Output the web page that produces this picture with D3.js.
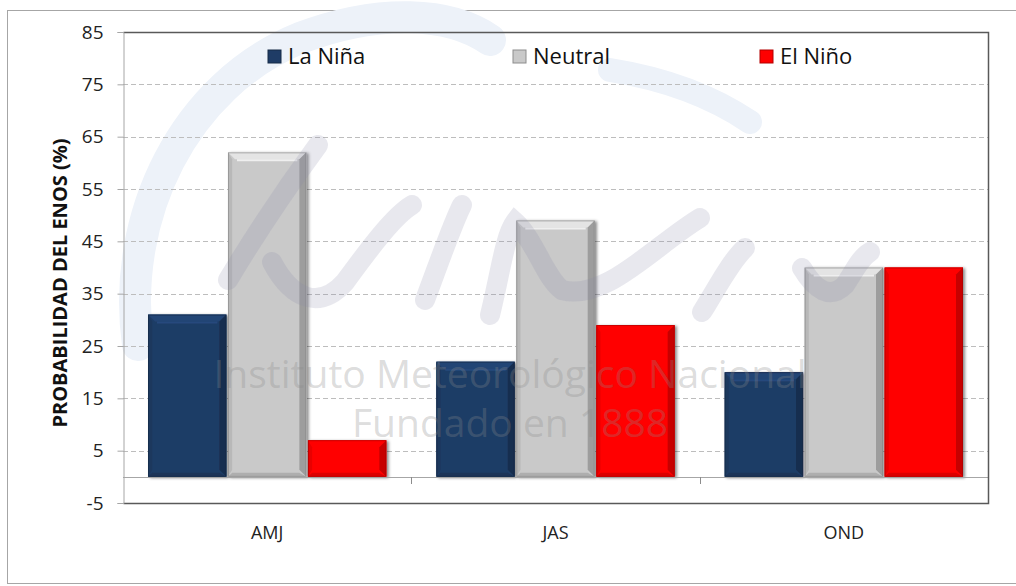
<!DOCTYPE html>
<html>
  <head>
    <meta charset="utf-8" />
    <title>enos-probabilidad</title>
    <style>
      html,
      body {
        padding: 0;
        margin: 0;
        background: #fff;
      }
      svg {
        display: block;
      }
    </style>
  </head>
  <body>
    <svg width="1016" height="586" font-family="Open Sans, sans-serif"></svg>

    <script src="https://cdn.jsdelivr.net/npm/d3@7/dist/d3.min.js"></script>
    <script>
      // datos
      const seasons = ['AMJ', 'JAS', 'OND'];
      const series = ['La Niña', 'Neutral', 'El Niño'];
      const laNina = [31, 22, 20];
      const neutral = [62, 49, 40];
      const elNino = [7, 29, 40];
      const yTicks = [-5, 5, 15, 25, 35, 45, 55, 65, 75, 85];
      const colors = ['#1f3c66', '#c9c9c9', '#ff0000'];
    </script>
    <script>
      const svg = d3.select('svg');
      const values = [laNina, neutral, elNino];

      const plotLeft = 123;
      const plotRight = 988;
      const plotTop = 32;
      const plotBottom = 503;

      const x = d3.scaleBand().domain(seasons).range([plotLeft, plotRight]); // categorías
      const xs = d3
        .scaleBand()
        .domain(series)
        .range([25, x.bandwidth() - 25])
        .paddingInner(0.02); // series dentro de la categoría
      const y = d3.scaleLinear().domain([-5, 85]).range([plotBottom, plotTop]);
      const color = d3.scaleOrdinal().domain(series).range(colors);

      // marco exterior
      svg
        .append('rect')
        .attr('x', 7.5)
        .attr('y', 10.5)
        .attr('width', 1016)
        .attr('height', 573)
        .attr('fill', 'none')
        .attr('stroke', '#a6a6a6');

      // marca de agua (logo, nube)
      const wm = svg.append('g').attr('fill', 'none').attr('stroke-linecap', 'round');
      wm.append('path')
        .attr('d', 'M138,345 C120,215 185,85 300,38 C380,8 450,12 490,40')
        .attr('stroke', '#edf2f9')
        .attr('stroke-width', 32);
      wm.append('path')
        .attr('d', 'M610,70 C660,78 710,95 750,122')
        .attr('stroke', '#edf2f9')
        .attr('stroke-width', 24);

      // rejilla
      svg
        .append('g')
        .selectAll('line')
        .data(yTicks.filter((d) => d > -5 && d < 85))
        .join('line')
        .attr('x1', plotLeft)
        .attr('x2', plotRight)
        .attr('y1', (d) => Math.round(y(d)) + 0.5)
        .attr('y2', (d) => Math.round(y(d)) + 0.5)
        .attr('stroke', '#bdbdbd')
        .attr('stroke-dasharray', '5,3');

      // sombra de las barras
      const defs = svg.append('defs');
      defs
        .append('filter')
        .attr('id', 'shadow')
        .attr('x', '-10%')
        .attr('y', '-10%')
        .attr('width', '130%')
        .attr('height', '130%')
        .append('feDropShadow')
        .attr('dx', 2)
        .attr('dy', 1)
        .attr('stdDeviation', 1.5)
        .attr('flood-color', '#000')
        .attr('flood-opacity', 0.45);

      const bars = [];
      seasons.forEach((s, i) => {
        series.forEach((k, j) => {
          bars.push({ season: s, key: k, value: values[j][i] });
        });
      });

      const b = 7; // bisel
      svg
        .append('g')
        .selectAll('g')
        .data(bars)
        .join('g')
        .attr('filter', 'url(#shadow)')
        .each(function (d) {
          const g = d3.select(this);
          const x0 = x(d.season) + xs(d.key);
          const w = xs.bandwidth();
          const y0 = y(d.value);
          const y1 = y(0);
          const c = d3.color(color(d.key));
          g.append('rect')
            .attr('x', x0)
            .attr('y', y0)
            .attr('width', w)
            .attr('height', y1 - y0)
            .attr('fill', c);
          // cara superior
          g.append('polygon')
            .attr('points', [[x0, y0], [x0 + w, y0], [x0 + w - b, y0 + b], [x0 + b, y0 + b]].join(' '))
            .attr('fill', c.brighter(0.35));
          // cara derecha
          g.append('polygon')
            .attr('points', [[x0 + w, y0], [x0 + w, y1], [x0 + w - b, y1 - b], [x0 + w - b, y0 + b]].join(' '))
            .attr('fill', c.darker(0.7));
          // cara izquierda
          g.append('polygon')
            .attr('points', [[x0, y0], [x0 + b * 0.6, y0 + b], [x0 + b * 0.6, y1 - b], [x0, y1]].join(' '))
            .attr('fill', c.darker(0.25));
          // cara inferior
          g.append('polygon')
            .attr('points', [[x0, y1], [x0 + b * 0.6, y1 - b * 0.6], [x0 + w - b, y1 - b * 0.6], [x0 + w, y1]].join(' '))
            .attr('fill', c.darker(0.4));
          // brillo superior
          g.append('line')
            .attr('x1', x0 + b + 2)
            .attr('x2', x0 + w - b - 2)
            .attr('y1', y0 + b + 1)
            .attr('y2', y0 + b + 1)
            .attr('stroke', c.brighter(0.8))
            .attr('stroke-opacity', 0.7)
            .attr('stroke-width', 2);
          g.append('rect')
            .attr('x', x0 + 0.5)
            .attr('y', y0 + 0.5)
            .attr('width', w - 1)
            .attr('height', y1 - y0 - 1)
            .attr('fill', 'none')
            .attr('stroke', c.darker(1.2))
            .attr('stroke-opacity', 0.6);
        });

      // trazos "imn" de la marca de agua, semitransparentes sobre las barras
      const imn = svg
        .append('g')
        .attr('fill', 'none')
        .attr('stroke', '#8c8ca8')
        .attr('stroke-opacity', 0.2)
        .attr('stroke-linecap', 'round')
        .attr('stroke-width', 20);
      imn.append('path').attr('d', 'M228,280 C255,235 285,190 318,145');
      imn.append('path').attr('d', 'M272,262 C292,300 320,310 345,282 C372,245 395,215 412,205');
      imn.append('path').attr('d', 'M425,300 C440,260 452,225 462,205');
      imn.append('path').attr('d', 'M490,315 C500,275 505,235 515,222 C535,240 545,278 562,290 C605,302 655,245 700,218');
      imn.append('path').attr('d', 'M702,312 C716,290 730,262 745,248');
      imn.append('path').attr('d', 'M802,268 C815,290 830,300 845,285 C855,270 860,258 870,252');

      // texto de la marca de agua
      const wmText = svg
        .append('g')
        .attr('text-anchor', 'middle')
        .attr('fill', '#8a8a8a')
        .attr('fill-opacity', 0.3)
        .attr('font-size', 39);
      wmText.append('text').attr('x', 510).attr('y', 388).text('Instituto Meteorológico Nacional');
      wmText.append('text').attr('x', 510).attr('y', 437).text('Fundado en 1888');

      // línea de cero
      svg
        .append('line')
        .attr('x1', plotLeft)
        .attr('x2', plotRight)
        .attr('y1', Math.round(y(0)) + 0.5)
        .attr('y2', Math.round(y(0)) + 0.5)
        .attr('stroke', '#a6a6a6');

      // marcas de categoría
      svg
        .append('g')
        .selectAll('line')
        .data(seasons.slice(1))
        .join('line')
        .attr('x1', (d) => Math.round(x(d)) + 0.5)
        .attr('x2', (d) => Math.round(x(d)) + 0.5)
        .attr('y1', Math.round(y(0)))
        .attr('y2', Math.round(y(0)) + 7)
        .attr('stroke', '#8c8c8c');

      // borde del área de trazado
      svg
        .append('path')
        .attr('d', `M${plotLeft + 0.5},${plotTop + 0.5} H${plotRight + 0.5} V${plotBottom + 0.5} H${plotLeft + 0.5}`)
        .attr('fill', 'none')
        .attr('stroke', '#595959')
        .attr('stroke-width', 1.5);

      // eje y
      const yAxis = svg
        .append('g')
        .attr('transform', `translate(${plotLeft + 0.5},0)`)
        .call(
          d3
            .axisLeft(y)
            .tickValues(yTicks)
            .tickFormat((d) => String(d))
            .tickSize(6)
            .tickPadding(14)
        );
      yAxis.select('.domain').attr('stroke', '#a6a6a6');
      yAxis.selectAll('.tick line').attr('stroke', '#a6a6a6');
      yAxis
        .selectAll('.tick text')
        .style('font-family', 'Open Sans, sans-serif')
        .style('font-size', '19px')
        .attr('fill', '#222');

      svg
        .append('text')
        .attr('transform', 'translate(67,283) rotate(-90)')
        .attr('text-anchor', 'middle')
        .attr('font-weight', 'bold')
        .attr('font-size', 20)
        .attr('fill', '#111')
        .text('PROBABILIDAD DEL ENOS (%)');

      // etiquetas x
      svg
        .append('g')
        .selectAll('text')
        .data(seasons)
        .join('text')
        .attr('x', (d) => x(d) + x.bandwidth() / 2)
        .attr('y', 539)
        .attr('text-anchor', 'middle')
        .attr('font-size', 18)
        .attr('fill', '#222')
        .text((d) => d);

      // leyenda
      const legendX = [268, 513, 760];
      const legend = svg
        .append('g')
        .selectAll('g')
        .data(series)
        .join('g')
        .attr('transform', (d, i) => `translate(${legendX[i]},56)`);
      legend
        .append('rect')
        .attr('x', 0)
        .attr('y', -6)
        .attr('width', 13)
        .attr('height', 13)
        .attr('fill', (d) => color(d))
        .attr('stroke', (d) => d3.color(color(d)).darker(1))
        .attr('stroke-width', 1);
      legend
        .append('text')
        .attr('x', 20)
        .attr('y', 8)
        .attr('font-size', 22)
        .attr('fill', '#111')
        .text((d) => d);
    </script>
  </body>
</html>
